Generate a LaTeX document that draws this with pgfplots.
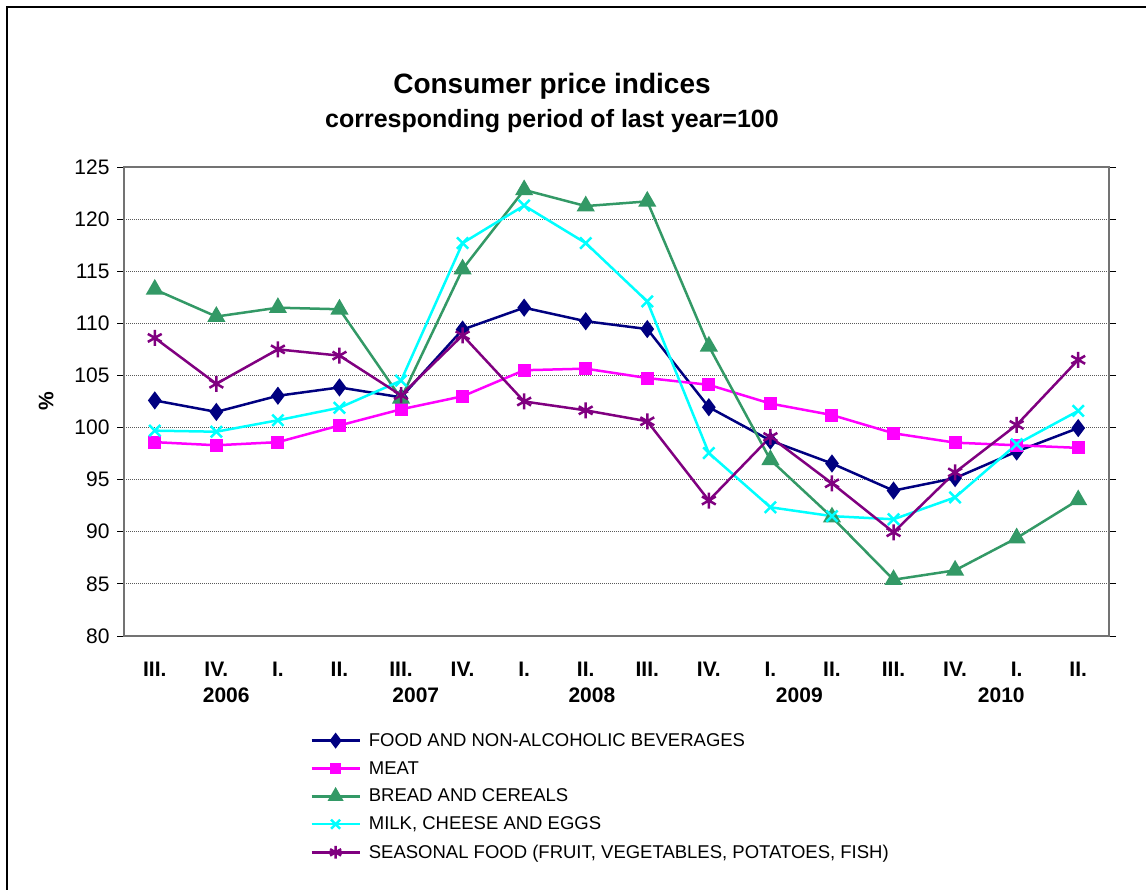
\documentclass[border=0pt]{standalone}
\usepackage{pgfplots}
\pgfplotsset{compat=1.18}
\usepackage{fontspec}
\setmainfont{Liberation Sans}
\definecolor{cfood}{RGB}{0,0,128}
\definecolor{cmeat}{RGB}{255,0,255}
\definecolor{cbread}{RGB}{51,153,102}
\definecolor{cmilk}{RGB}{0,255,255}
\definecolor{cseas}{RGB}{128,0,128}
\begin{document}
\begin{tikzpicture}[x=1pt,y=1pt]
\useasboundingbox (0,0) rectangle (1146,890);
\draw[black, line width=2pt] (7,0) -- (7,883) -- (1146,883);
\node[font=\fontsize{28}{32}\selectfont\bfseries] at (552,804) {Consumer price indices};
\node[font=\fontsize{25}{29}\selectfont\bfseries] at (552,769) {corresponding period of last year=100};
\begin{axis}[
  at={(124pt,254pt)}, anchor=south west,
  scale only axis, width=985pt, height=469pt,
  xmin=-0.5, xmax=15.5, ymin=80, ymax=125,
  ytick={80,85,...,125},
  xtick={0,...,15},
  xticklabels={III.,IV.,I.,II.,III.,IV.,I.,II.,III.,IV.,I.,II.,III.,IV.,I.,II.},
  major x tick style={draw=none},
  extra x ticks={-0.5,0.5,...,15.5},
  extra x tick labels={},
  extra x tick style={tick align=outside, major tick length=12pt, tick style={black, line width=0.8pt}, grid=none},
  ymajorgrids,
  major grid style={gray!70!black, line width=0.8pt, dash pattern=on 1pt off 1pt},
  y tick style={black, line width=0.8pt},
  tick align=outside, major tick length=7pt,
  axis line style={gray!90!black, line width=2.5pt},
  ticklabel style={font=\fontsize{21}{24}\selectfont},
  xticklabel style={font=\fontsize{21}{24}\selectfont\bfseries, anchor=north, yshift=-15.5pt},
  yticklabel style={anchor=east, xshift=-4pt},
  /pgf/number format/assume math mode=true,
  ylabel={\bfseries\%},
  ylabel style={font=\fontsize{21}{24}\selectfont, at={(axis description cs:-0.079,0.5)}, anchor=center},
  clip=false,
  every axis plot/.append style={line width=2.5pt, mark options={solid, line width=2pt}},
  legend style={at={(axis description cs:0.189,-0.203)}, anchor=north west, draw=none, fill=none,
    font=\fontsize{18.5}{21}\selectfont, row sep=9.5pt, inner sep=0pt,
    /tikz/every odd column/.append style={column sep=6pt}},
  legend cell align=left,
  legend image code/.code={\draw[mark repeat=2, mark phase=2, #1, mark options={scale=0.8}] plot coordinates {(0pt,0pt) (24pt,0pt) (48pt,0pt)};},
]
\addplot[color=cfood, mark=diamond*, mark size=7.5pt] coordinates {
(0,102.6) (1,101.5) (2,103.05) (3,103.85) (4,102.9) (5,109.4) (6,111.5) (7,110.2)
(8,109.45) (9,101.95) (10,98.75) (11,96.55) (12,93.95) (13,95.15) (14,97.7) (15,99.95)};
\addlegendentry{FOOD AND NON-ALCOHOLIC BEVERAGES}
\addplot[color=cmeat, mark=square*, mark size=5.5pt] coordinates {
(0,98.6) (1,98.3) (2,98.6) (3,100.2) (4,101.75) (5,103.0) (6,105.5) (7,105.65)
(8,104.75) (9,104.1) (10,102.3) (11,101.2) (12,99.45) (13,98.55) (14,98.3) (15,98.05)};
\addlegendentry{MEAT}
\addplot[color=cbread, mark=triangle*, mark size=8.5pt] coordinates {
(0,113.25) (1,110.65) (2,111.5) (3,111.35) (4,102.8) (5,115.2) (6,122.8) (7,121.25)
(8,121.7) (9,107.8) (10,96.9) (11,91.4) (12,85.4) (13,86.3) (14,89.4) (15,93.05)};
\addlegendentry{BREAD AND CEREALS}
\addplot[color=cmilk, mark=x, mark size=8pt, mark options={solid, line width=2.5pt}] coordinates {
(0,99.7) (1,99.6) (2,100.7) (3,101.9) (4,104.5) (5,117.7) (6,121.3) (7,117.7)
(8,112.1) (9,97.55) (10,92.35) (11,91.5) (12,91.2) (13,93.3) (14,98.4) (15,101.6)};
\addlegendentry{MILK, CHEESE AND EGGS}
\addplot[color=cseas, mark=asterisk, mark size=8pt, mark options={solid, line width=2.5pt}] coordinates {
(0,108.6) (1,104.2) (2,107.5) (3,106.9) (4,103.1) (5,108.85) (6,102.5) (7,101.65)
(8,100.6) (9,93.0) (10,99.1) (11,94.65) (12,89.95) (13,95.7) (14,100.25) (15,106.5)};
\addlegendentry{SEASONAL FOOD (FRUIT, VEGETABLES, POTATOES, FISH)}
\node[font=\fontsize{21}{24}\selectfont\bfseries] at ([yshift=-59.5pt]axis cs:1.16,80) {2006};
\node[font=\fontsize{21}{24}\selectfont\bfseries] at ([yshift=-59.5pt]axis cs:4.24,80) {2007};
\node[font=\fontsize{21}{24}\selectfont\bfseries] at ([yshift=-59.5pt]axis cs:7.1,80) {2008};
\node[font=\fontsize{21}{24}\selectfont\bfseries] at ([yshift=-59.5pt]axis cs:10.47,80) {2009};
\node[font=\fontsize{21}{24}\selectfont\bfseries] at ([yshift=-59.5pt]axis cs:13.75,80) {2010};
\end{axis}
\end{tikzpicture}
\end{document}
